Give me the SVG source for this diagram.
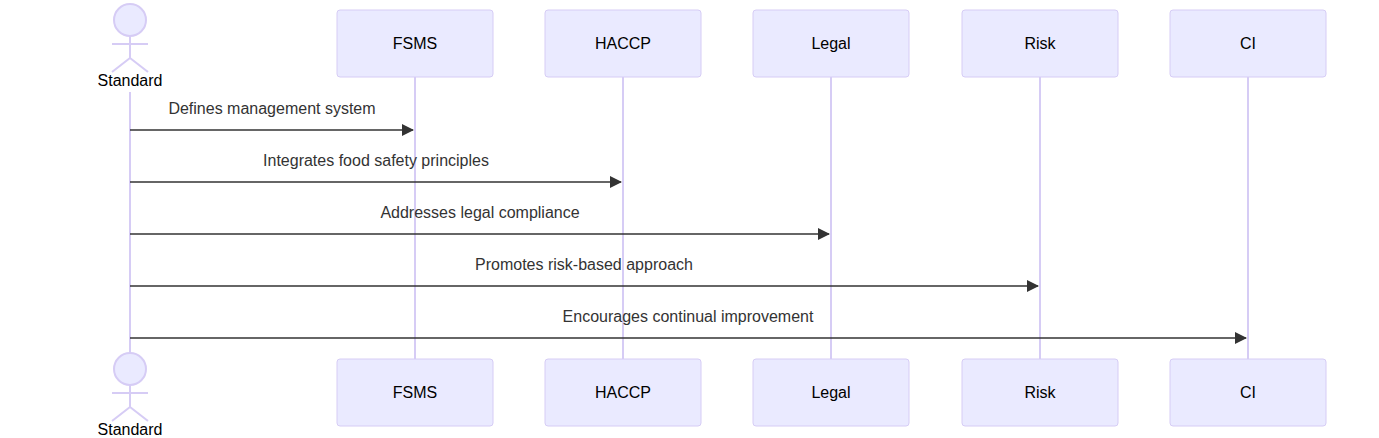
<svg xmlns="http://www.w3.org/2000/svg" width="1379" height="438" viewBox="0 0 1379 438">
<style>
.box{fill:#eaeaff;stroke:#d6ccf5;stroke-width:1}
.life{stroke:#d6ccf5;stroke-width:2}
.act{fill:none;stroke:#d6ccf5;stroke-width:2}
.t{font-family:"Liberation Sans",Arial,sans-serif;font-size:16px;fill:#000;text-anchor:middle}
.m{font-family:"Liberation Sans",Arial,sans-serif;font-size:16px;fill:#333;text-anchor:middle}
.msg{stroke:#333;stroke-width:1.5;marker-end:url(#ah)}
</style>
<defs><marker id="ah" markerWidth="12" markerHeight="12" refX="11" refY="6" orient="auto" markerUnits="userSpaceOnUse"><path d="M0,0 L12,6 L0,12 z" fill="#333"/></marker></defs>
<g id="lifelines">
<line class="life" x1="130" y1="92" x2="130" y2="355"/>
<line class="life" x1="415" y1="77" x2="415" y2="359"/>
<line class="life" x1="623" y1="77" x2="623" y2="359"/>
<line class="life" x1="831" y1="77" x2="831" y2="359"/>
<line class="life" x1="1040" y1="77" x2="1040" y2="359"/>
<line class="life" x1="1248" y1="77" x2="1248" y2="359"/>
</g>
<g id="actor-top"><circle cx="130" cy="20" r="16" fill="#eaeaff" stroke="#d6ccf5" stroke-width="2"/><path class="act" d="M130,36 V58 M112,44 H148 M130,58 L112,72 M130,58 L148,72"/><text class="t" x="130" y="86">Standard</text></g>
<g id="actor-bottom"><circle cx="130" cy="369" r="16" fill="#eaeaff" stroke="#d6ccf5" stroke-width="2"/><path class="act" d="M130,385 V407 M112,393 H148 M130,407 L112,421 M130,407 L148,421"/><text class="t" x="130" y="435">Standard</text></g>
<g id="FSMS"><rect class="box" x="337" y="10" width="156" height="67" rx="3"/><text class="t" x="415" y="49">FSMS</text><rect class="box" x="337" y="359" width="156" height="67" rx="3"/><text class="t" x="415" y="398">FSMS</text></g>
<g id="HACCP"><rect class="box" x="545" y="10" width="156" height="67" rx="3"/><text class="t" x="623" y="49">HACCP</text><rect class="box" x="545" y="359" width="156" height="67" rx="3"/><text class="t" x="623" y="398">HACCP</text></g>
<g id="Legal"><rect class="box" x="753" y="10" width="156" height="67" rx="3"/><text class="t" x="831" y="49">Legal</text><rect class="box" x="753" y="359" width="156" height="67" rx="3"/><text class="t" x="831" y="398">Legal</text></g>
<g id="Risk"><rect class="box" x="962" y="10" width="156" height="67" rx="3"/><text class="t" x="1040" y="49">Risk</text><rect class="box" x="962" y="359" width="156" height="67" rx="3"/><text class="t" x="1040" y="398">Risk</text></g>
<g id="CI"><rect class="box" x="1170" y="10" width="156" height="67" rx="3"/><text class="t" x="1248" y="49">CI</text><rect class="box" x="1170" y="359" width="156" height="67" rx="3"/><text class="t" x="1248" y="398">CI</text></g>
<g id="connectors">
<line class="msg" x1="130" y1="130" x2="413" y2="130"/><text class="m" x="272" y="114">Defines management system</text>
<line class="msg" x1="130" y1="182" x2="621" y2="182"/><text class="m" x="376" y="166">Integrates food safety principles</text>
<line class="msg" x1="130" y1="234" x2="829" y2="234"/><text class="m" x="480" y="218">Addresses legal compliance</text>
<line class="msg" x1="130" y1="286" x2="1038" y2="286"/><text class="m" x="584" y="270">Promotes risk-based approach</text>
<line class="msg" x1="130" y1="338" x2="1246" y2="338"/><text class="m" x="688" y="322">Encourages continual improvement</text>
</g>
</svg>
